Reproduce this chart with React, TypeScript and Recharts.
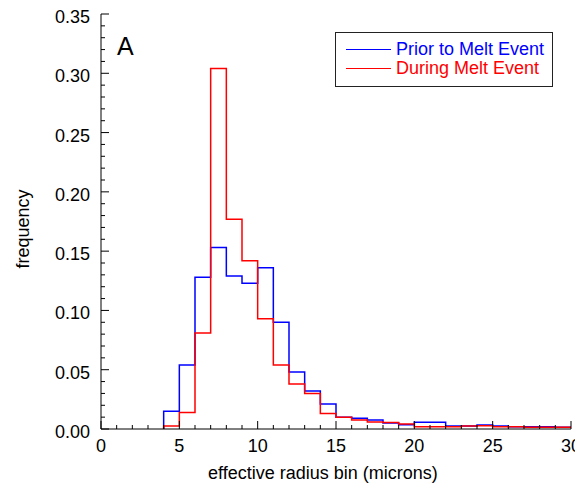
import React from 'react';
import { LineChart, Line, XAxis, YAxis, Legend, Label } from 'recharts';

// left edge of each 1-micron bin
const binStarts = [4, 5, 6, 7, 8, 9, 10, 11, 12, 13, 14, 15, 16, 17, 18, 19, 20, 21, 22, 23, 24, 25, 26, 27, 28, 29];

const priorValues = [
  0.015, 0.054, 0.128, 0.153, 0.129, 0.123, 0.136, 0.09, 0.048, 0.032, 0.021, 0.01, 0.009,
  0.0076, 0.005, 0.0035, 0.0056, 0.0056, 0.0025, 0.0025, 0.0034, 0.0025, 0.002, 0.002, 0.0018, 0.0015,
];

const duringValues = [
  0.0025, 0.014, 0.081, 0.304, 0.177, 0.142, 0.093, 0.054, 0.038, 0.03, 0.013, 0.01, 0.0076,
  0.006, 0.0055, 0.0042, 0.002, 0.002, 0.002, 0.0025, 0.0028, 0.002, 0.002, 0.0015, 0.0015, 0.0015,
];

const seriesNames = ['Prior to Melt Event', 'During Melt Event'];

const xTicks = [0, 1, 2, 3, 4, 5, 6, 7, 8, 9, 10, 11, 12, 13, 14, 15, 16, 17, 18, 19, 20, 21, 22, 23, 24, 25, 26, 27, 28, 29, 30];
const yTicks = [
  0, 0.01, 0.02, 0.03, 0.04, 0.05, 0.06, 0.07, 0.08, 0.09, 0.1, 0.11, 0.12, 0.13, 0.14, 0.15, 0.16, 0.17,
  0.18, 0.19, 0.2, 0.21, 0.22, 0.23, 0.24, 0.25, 0.26, 0.27, 0.28, 0.29, 0.3, 0.31, 0.32, 0.33, 0.34, 0.35,
];

const FONT = '"Liberation Sans", Arial, Helvetica, sans-serif';

// stepBefore: each point sits on the bin's right edge, with a zero start at the first edge
const data = [
  { edge: binStarts[0], prior: 0, during: 0 },
  ...binStarts.map((b, i) => ({ edge: b + 1, prior: priorValues[i], during: duringValues[i] })),
];

const isMajorX = (v: number) => v % 5 === 0;
const isMajorY = (v: number) => Math.round(v * 100) % 5 === 0;

const BottomTick = ({ x, y, payload }: any) => {
  const major = isMajorX(payload.value);
  return (
    <g>
      <line x1={x} x2={x} y1={y} y2={y - (major ? 8 : 4)} stroke="#000" />
      {major && (
        <text x={x} y={y + 23} textAnchor="middle" fontSize={18} fontFamily={FONT} fill="#000">
          {payload.value}
        </text>
      )}
    </g>
  );
};

const TopTick = ({ x, y, payload }: any) => (
  <line x1={x} x2={x} y1={y} y2={y + (isMajorX(payload.value) ? 8 : 4)} stroke="#000" />
);

const LeftTick = ({ x, y, payload }: any) => {
  const major = isMajorY(payload.value);
  return (
    <g>
      <line x1={x} x2={x + (major ? 8 : 4)} y1={y} y2={y} stroke="#000" />
      {major && (
        <text x={x - 11} y={y + 9} textAnchor="end" fontSize={18} fontFamily={FONT} fill="#000">
          {payload.value.toFixed(2)}
        </text>
      )}
    </g>
  );
};

const RightTick = ({ x, y, payload }: any) => (
  <line x1={x} x2={x - (isMajorY(payload.value) ? 8 : 4)} y1={y} y2={y} stroke="#000" />
);

const renderLegend = (props: any) => {
  // keep the series order of the plot, not the alphabetical one
  const items = [...props.payload].sort(
    (a: any, b: any) => seriesNames.indexOf(a.value) - seriesNames.indexOf(b.value)
  );
  return (
    <div
      style={{
        border: '1px solid #222',
        background: '#fff',
        width: 218,
        height: 55,
        boxSizing: 'border-box',
        paddingTop: 7,
        fontFamily: FONT,
      }}
    >
      {items.map((entry: any) => (
        <div key={entry.value} style={{ display: 'flex', alignItems: 'center', height: 19 }}>
          <span style={{ width: 45, borderTop: `1.5px solid ${entry.color}`, marginLeft: 10, marginRight: 5 }} />
          <span style={{ color: entry.color, fontSize: 18, lineHeight: '19px' }}>{entry.value}</span>
        </div>
      ))}
    </div>
  );
};

export default function App() {
  return (
    <div style={{ position: 'absolute', left: 0, top: 0, background: '#fff' }}>
      <LineChart width={575} height={483} data={data} margin={{ top: 14, right: 4, bottom: 0, left: 0 }}>
        <XAxis
          dataKey="edge"
          type="number"
          domain={[0, 30]}
          ticks={xTicks}
          interval={0}
          height={54}
          tickSize={0}
          tickMargin={0}
          tickLine={false}
          tick={<BottomTick />}
          axisLine={{ stroke: '#000' }}
        >
          <Label
            content={() => (
              <text x={323} y={479} textAnchor="middle" fontSize={18} fontFamily={FONT} fill="#000">
                effective radius bin (microns)
              </text>
            )}
          />
        </XAxis>
        <XAxis
          xAxisId="top"
          orientation="top"
          type="number"
          domain={[0, 30]}
          ticks={xTicks}
          interval={0}
          height={0}
          tickSize={0}
          tickMargin={0}
          tickLine={false}
          tick={<TopTick />}
          axisLine={{ stroke: '#000' }}
        />
        <YAxis
          type="number"
          domain={[0, 0.35]}
          ticks={yTicks}
          interval={0}
          width={101}
          tickSize={0}
          tickMargin={0}
          tickLine={false}
          tick={<LeftTick />}
          axisLine={{ stroke: '#000' }}
        >
          <Label
            content={() => (
              <text
                x={29}
                y={229}
                transform="rotate(-90, 29, 229)"
                textAnchor="middle"
                fontSize={18}
                fontFamily={FONT}
                fill="#000"
              >
                frequency
              </text>
            )}
          />
        </YAxis>
        <YAxis
          yAxisId="right"
          orientation="right"
          type="number"
          domain={[0, 0.35]}
          ticks={yTicks}
          interval={0}
          width={0}
          tickSize={0}
          tickMargin={0}
          tickLine={false}
          tick={<RightTick />}
          axisLine={{ stroke: '#000' }}
        />
        <Legend
          layout="vertical"
          align="center"
          verticalAlign="middle"
          content={renderLegend}
          wrapperStyle={{ left: 335, top: 32, width: 218, height: 55 }}
        />
        <Line
          type="stepBefore"
          dataKey="prior"
          name={seriesNames[0]}
          stroke="#0000ff"
          strokeWidth={1.5}
          dot={false}
          activeDot={false}
          isAnimationActive={false}
        />
        <Line
          type="stepBefore"
          dataKey="during"
          name={seriesNames[1]}
          stroke="#ff0000"
          strokeWidth={1.5}
          dot={false}
          activeDot={false}
          isAnimationActive={false}
        />
        <text x={117} y={55} fontSize={25} fontFamily={FONT} fill="#000">
          A
        </text>
      </LineChart>
    </div>
  );
}
